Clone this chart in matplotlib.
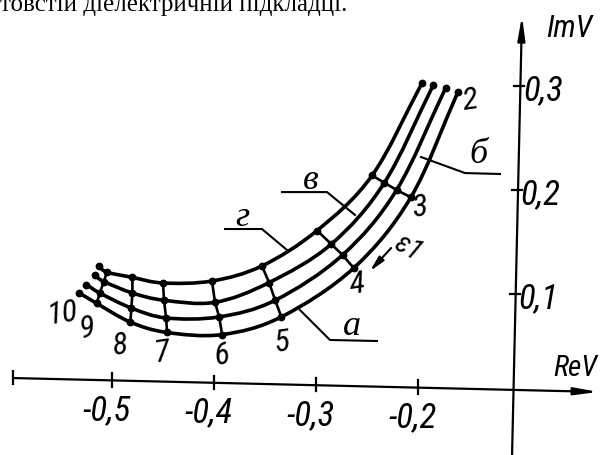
import numpy as np
import matplotlib
matplotlib.use("Agg")
import matplotlib.pyplot as plt
from matplotlib import font_manager
from matplotlib.path import Path
from matplotlib.patches import PathPatch

# hodograph points 2..10 on the four curves а, б, в, г (ReV, ImV)
point_ids = [2, 3, 4, 5, 6, 7, 8, 9, 10]
curve_names = ["а", "б", "в", "г"]
re_a = [-0.161, -0.207, -0.263, -0.334, -0.392, -0.446, -0.482, -0.515, -0.532]
im_a = [0.294, 0.193, 0.125, 0.078, 0.061, 0.063, 0.073, 0.091, 0.101]
re_b = [-0.173, -0.221, -0.274, -0.340, -0.395, -0.447, -0.481, -0.512, -0.525]
im_b = [0.298, 0.200, 0.1375, 0.094, 0.078, 0.077, 0.0865, 0.101, 0.109]
re_v = [-0.185, -0.233, -0.285, -0.346, -0.399, -0.449, -0.480, -0.508, -0.517]
im_v = [0.301, 0.207, 0.148, 0.111, 0.092, 0.094, 0.101, 0.112, 0.118]
re_g = [-0.196, -0.245, -0.299, -0.353, -0.402, -0.450, -0.480, -0.505, -0.513]
im_g = [0.303, 0.214, 0.161, 0.127, 0.1125, 0.1106, 0.116, 0.121, 0.127]

re_ticks = [-0.5, -0.4, -0.3, -0.2]
re_tick_labels = ["-0,5", "-0,4", "-0,3", "-0,2"]
im_ticks = [0.1, 0.2, 0.3]
im_tick_labels = ["0,1", "0,2", "0,3"]

# layout
XLIM = (-0.6098, -0.0206)
YLIM = (-0.0548, 0.3827)
XAXIS = ((-0.597, 0.0192), (-0.0206, 0.0058))   # slightly skewed, as drawn
YAXIS = ((-0.1078, -0.0548), (-0.098, 0.370))
num_pos = [(-0.149, 0.2856), (-0.198, 0.1827), (-0.2598, 0.1087), (-0.3333, 0.0538),
           (-0.392, 0.0404), (-0.451, 0.0442), (-0.492, 0.050), (-0.5245, 0.0673),
           (-0.549, 0.0817)]
letter_pos = [(-0.2647, 0.0692), (-0.1412, 0.2337), (-0.3049, 0.2087), (-0.3725, 0.1731)]
leaders = [
    [(-0.3157, 0.0846), (-0.2863, 0.0558), (-0.2402, 0.0548)],
    [(-0.197, 0.2317), (-0.1539, 0.2163), (-0.1196, 0.2154)],
    [(-0.3333, 0.198), (-0.2892, 0.198), (-0.2618, 0.176)],
    [(-0.3892, 0.1625), (-0.353, 0.1625), (-0.3284, 0.1423)],
]


def pick_family(cands, default):
    for c in cands:
        try:
            font_manager.findfont(font_manager.FontProperties(family=c), fallback_to_default=False)
            return c
        except Exception:
            pass
    return default


narrow = pick_family(["Liberation Sans Narrow", "DejaVu Sans Condensed", "Roboto Condensed",
                      "Open Sans Condensed"], "DejaVu Sans")


def smooth_path(xs, ys):
    # Catmull-Rom through the points, as cubic Bezier segments
    p = np.column_stack([xs, ys])
    ext = np.vstack([2 * p[0] - p[1], p, 2 * p[-1] - p[-2]])
    verts = [p[0]]
    codes = [Path.MOVETO]
    for i in range(1, len(ext) - 2):
        c1 = ext[i] + (ext[i + 1] - ext[i - 1]) / 6
        c2 = ext[i + 1] - (ext[i + 2] - ext[i]) / 6
        verts += [c1, c2, ext[i + 1]]
        codes += [Path.CURVE4] * 3
    return Path(verts, codes)


def y_on_xaxis(x):
    (x0, y0), (x1, y1) = XAXIS
    return y0 + (x - x0) * (y1 - y0) / (x1 - x0)


def x_on_yaxis(y):
    (x0, y0), (x1, y1) = YAXIS
    return x0 + (y - y0) * (x1 - x0) / (y1 - y0)


fig = plt.figure(figsize=(6.01, 4.55), dpi=100)
ax = fig.add_axes([0, 0, 1, 1])
ax.set_xlim(*XLIM)
ax.set_ylim(*YLIM)
ax.axis("off")

ink = "black"
hand = dict(family=narrow, style="italic", ha="center", va="center")

# axes with arrows
(xa0, ya0), (xa1, ya1) = XAXIS
ax.plot([xa0, xa1 - 0.02], [ya0, y_on_xaxis(xa1 - 0.02)], color=ink, lw=1.6)
ax.annotate("", xy=(xa1, ya1), xytext=(xa1 - 0.03, y_on_xaxis(xa1 - 0.03)),
            arrowprops=dict(arrowstyle="-|>,head_length=1.4,head_width=0.22", color=ink, lw=1.6))
(xb0, yb0), (xb1, yb1) = YAXIS
ax.plot([xb0, x_on_yaxis(yb1 - 0.02)], [yb0, yb1 - 0.02], color=ink, lw=1.6)
ax.annotate("", xy=(xb1, yb1), xytext=(x_on_yaxis(yb1 - 0.03), yb1 - 0.03),
            arrowprops=dict(arrowstyle="-|>,head_length=1.4,head_width=0.22", color=ink, lw=1.6))

for x in [xa0] + re_ticks:
    y = y_on_xaxis(x)
    ax.plot([x, x], [y - 0.006, y + 0.007], color=ink, lw=1.6)
for x, lab in zip(re_ticks, re_tick_labels):
    ax.text(x - 0.005, y_on_xaxis(x) - 0.029, lab, fontsize=25, **hand)
for y, lab in zip(im_ticks, im_tick_labels):
    x = x_on_yaxis(y)
    ax.plot([x - 0.006, x + 0.004], [y, y], color=ink, lw=1.6)
    ax.text(x + 0.022, y - 0.004, lab, fontsize=25, **hand)

ax.text(-0.052, 0.3555, "ImV", fontsize=22, **hand)
ax.text(-0.0461, 0.0288, "ReV", fontsize=21, **hand)

# the four curves
curves = [(re_a, im_a), (re_b, im_b), (re_v, im_v), (re_g, im_g)]
for xs, ys in curves:
    ax.add_patch(PathPatch(smooth_path(xs, ys), fill=False, lw=2.6, color=ink,
                           capstyle="round"))
    ax.plot(xs, ys, "o", color=ink, ms=4.6)

# lines joining equal point numbers (3..9)
for k, pid in enumerate(point_ids):
    if pid in (2, 10):
        continue
    ax.plot([c[0][k] for c in curves], [c[1][k] for c in curves], color=ink, lw=1.9)

for pid, (x, y) in zip(point_ids, num_pos):
    ax.text(x, y, str(pid), fontsize=23, rotation=8, **hand)

# curve letters with leader lines
for name, (x, y), pts in zip(curve_names, letter_pos, leaders):
    ax.plot([p[0] for p in pts], [p[1] for p in pts], color=ink, lw=1.5)
    ax.text(x, y, name, family="Liberation Serif", style="italic", fontsize=26,
            ha="center", va="center")

# frequency direction
ax.text(-0.2095, 0.1445, "ε1", fontsize=21, rotation=-30, **hand)
ax.annotate("", xy=(-0.249, 0.120), xytext=(-0.2245, 0.1462),
            arrowprops=dict(arrowstyle="-|>,head_length=0.9,head_width=0.2", color=ink, lw=1.5))

# tail of the caption above the figure
ax.text(-0.6098, 0.3720, "товстій діелектричній підкладці.", family="Liberation Serif",
        fontsize=18, ha="left", va="baseline")

fig.savefig("out.png", dpi=100)
